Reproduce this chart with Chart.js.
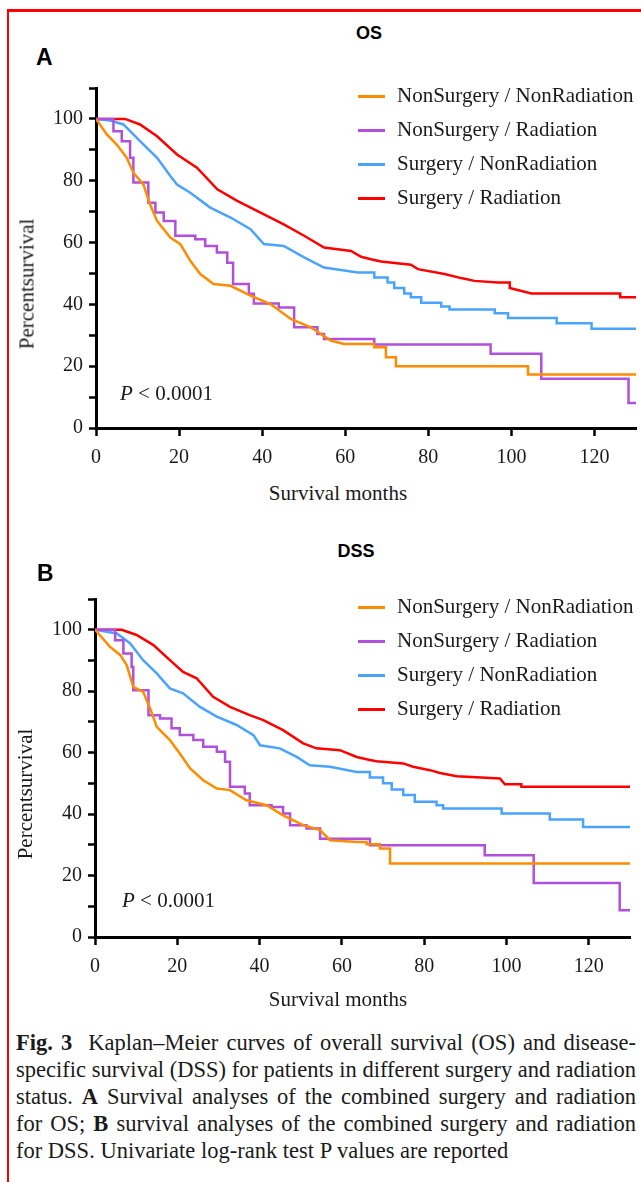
<!DOCTYPE html>
<html>
<head>
  <meta charset="utf-8">
  <title>Fig. 3 Kaplan-Meier curves</title>
  <script src="https://cdn.jsdelivr.net/npm/chart.js"></script>
  <style>
    body { margin: 0; background: #fff; }
    .page { position: relative; width: 641px; height: 1182px; overflow: hidden; font-family: "Liberation Serif", serif; color: #1a1a1a; }
    .frame { position: absolute; left: 7px; top: 9px; right: -10px; bottom: -10px; border-left: 2px solid #f00; border-top: 3px solid #f00; }
    .plot { position: absolute; left: 0; width: 641px; height: 410px; }
    .txt { position: absolute; line-height: 1; white-space: nowrap; }
    .panel { font-family: "Liberation Sans", Arial, sans-serif; font-weight: bold; font-size: 23px; color: #000; }
    .head { font-family: "Liberation Sans", Arial, sans-serif; font-weight: bold; font-size: 18px; color: #000; transform: translateX(-50%); }
    .serif21 { font-size: 21px; }
    .ytitle { font-size: 21px; transform: translate(-50%, -50%) rotate(-90deg); }
    .xtitle { font-size: 21px; transform: translate(-50%, -50%); }
    .swatch { position: absolute; width: 27px; height: 3px; }
    .cap { position: absolute; left: 16px; width: 620px; font-size: 22.5px; line-height: 27px; white-space: nowrap; text-align: justify; text-align-last: justify; }
    .cap.last { text-align-last: left; }
  </style>
</head>
<body>
<div class="page">
  <div class="frame"></div>

  <div class="plot" style="top:70px"><canvas id="chartOS"></canvas></div>
  <div class="plot" style="top:580px"><canvas id="chartDSS"></canvas></div>

  <div class="txt panel" style="left:36px; top:46px">A</div>
  <div class="txt head" style="left:369px; top:24px">OS</div>
  <div id="legendOS"></div>
  <div class="txt serif21" style="left:120px; top:383px"><i>P</i> &lt; 0.0001</div>
  <div class="txt ytitle" style="left:27px; top:284px">Percentsurvival</div>
  <div class="txt xtitle" style="left:338px; top:493px">Survival months</div>

  <div class="txt panel" style="left:37px; top:562px">B</div>
  <div class="txt head" style="left:356px; top:542px">DSS</div>
  <div id="legendDSS"></div>
  <div class="txt serif21" style="left:122px; top:890px"><i>P</i> &lt; 0.0001</div>
  <div class="txt ytitle" style="left:25px; top:794px">Percentsurvival</div>
  <div class="txt xtitle" style="left:338px; top:999px">Survival months</div>

  <div class="cap" style="top:1029px"><span><b>Fig. 3</b>&nbsp; Kaplan–Meier curves of overall survival (OS) and disease-</span></div>
  <div class="cap" style="top:1056px"><span>specific survival (DSS) for patients in different surgery and radiation</span></div>
  <div class="cap" style="top:1083px"><span>status. <b>A</b> Survival analyses of the combined surgery and radiation</span></div>
  <div class="cap" style="top:1110px"><span>for OS; <b>B</b> survival analyses of the combined surgery and radiation</span></div>
  <div class="cap last" style="top:1137px"><span>for DSS. Univariate log-rank test P values are reported</span></div>
</div>

<script>
  const seriesNames = ['NonSurgery / NonRadiation', 'NonSurgery / Radiation', 'Surgery / NonRadiation', 'Surgery / Radiation'];
  const seriesColors = ['#ff8c00', '#b050dc', '#4aa3ff', '#ff0000'];

  const xTickValues = [0, 20, 40, 60, 80, 100, 120];
  const yTickValues = [0, 10, 20, 30, 40, 50, 60, 70, 80, 90, 100, 110];
  const yTickLabels = [0, 20, 40, 60, 80, 100];

  // NonSurgery / Radiation: step times (months) and percent survival after each step.
  // Other groups: points, with corners kept where the steps are wide.
  const osMonthsNN = [0, 2.6, 5, 7.4, 9, 11.4, 13, 14.7, 17.9, 20.3, 22.7, 25.1, 28.3, 32.4, 37.2, 42, 46.9, 51.7, 56.5, 59.7, 67, 67, 69.8, 69.8, 72.2, 72.2, 104, 104, 130];
  const osSurvNN   = [100, 95, 91.7, 87.4, 82.6, 78.8, 72.4, 67, 61.6, 59.5, 54.1, 49.8, 46.6, 46, 42.8, 40.1, 35.3, 32.6, 28.3, 27.2, 27.2, 26.1, 26.1, 22.9, 22.9, 20, 20, 17.3, 17.3];
  const osMonthsNR = [0, 4.2, 6.2, 8.2, 9, 12.6, 14.3, 16.3, 19.1, 23.9, 26.3, 29.1, 31.6, 33, 36.8, 38, 44, 47.7, 53.3, 54.9, 67, 95, 107.2, 128.2, 130];
  const osSurvNR   = [100, 96, 92.8, 87.4, 79.4, 72.9, 69.7, 67, 62.2, 61.1, 58.9, 56.8, 53.5, 46.6, 43.4, 40.3, 39, 32.6, 30.4, 28.8, 27, 24, 15.9, 8.1, 8.1];
  const osMonthsSN = [0, 3.4, 6.6, 10.6, 14.7, 17.9, 19.5, 22.7, 27.5, 32.4, 37.2, 40.4, 45.2, 50.1, 54.9, 63, 67, 67, 70.2, 70.2, 71.8, 71.8, 74.2, 74.2, 75.8, 75.8, 78.3, 78.3, 83.1, 83.1, 85.1, 85.1, 96, 96, 99.2, 99.2, 110.9, 110.9, 119.3, 119.3, 130];
  const osSurvSN   = [100, 99.5, 98.2, 92.8, 87.4, 81.5, 78.8, 76.1, 71.3, 68.1, 64.3, 59.5, 58.9, 55.2, 51.9, 50.3, 50.3, 48.7, 48.7, 47.1, 47.1, 45.3, 45.3, 43.5, 43.5, 42.3, 42.3, 40.5, 40.5, 39.3, 39.3, 38.3, 38.3, 37.1, 37.1, 35.6, 35.6, 33.9, 33.9, 32.1, 32.1];
  const osMonthsSR = [0, 7, 10.6, 14.7, 19.5, 24.3, 29.2, 34, 39.6, 45.2, 50.1, 54.9, 61.4, 63.8, 66.2, 68.6, 75.8, 77.5, 83.9, 87.9, 91.1, 96.8, 99.6, 99.6, 104.8, 126.2, 126.2, 130];
  const osSurvSR   = [100, 100, 98.2, 94.4, 88.5, 84.2, 77.2, 73.5, 69.7, 65.9, 62.2, 58.4, 57.3, 55.4, 54.6, 53.9, 52.8, 51.4, 49.8, 48.5, 47.6, 47.1, 47.1, 45.3, 43.5, 43.5, 42.3, 42.3];

  const dssMonthsNN = [0, 3.6, 6.1, 7.7, 9.3, 11.7, 13.4, 15, 18.2, 20.6, 23.1, 26.3, 29.6, 32.8, 36.8, 41.7, 45.7, 50.6, 54.7, 57.1, 63.6, 66, 66, 69.2, 69.2, 71.7, 71.7, 130];
  const dssSurvNN   = [100, 94.5, 91.8, 88.5, 81.4, 79.8, 74.4, 68.4, 64.1, 59.7, 54.9, 51, 48.3, 47.8, 44.5, 42.9, 39.6, 36.4, 34.8, 31.5, 30.9, 30.9, 30.2, 30.2, 28.8, 28.8, 23.9, 23.9];
  const dssMonthsNR = [0, 4.9, 6.9, 8.9, 9.3, 13, 15.8, 18.6, 20.6, 23.9, 26.3, 29.6, 31.6, 32.8, 36.4, 37.6, 42.9, 45.7, 47.4, 51.4, 54.7, 66.8, 94.7, 106.6, 127.5, 130];
  const dssSurvNR   = [100, 96.6, 92.3, 87.9, 80.3, 72.2, 71.1, 67.9, 65.7, 64.1, 61.9, 60.3, 57, 48.9, 46.7, 42.9, 42.3, 40.2, 36.4, 35.3, 32, 29.9, 26.6, 17.6, 8.7, 8.7];
  const dssMonthsSN = [0, 5.3, 8.5, 11.7, 15, 18.2, 21.4, 25.5, 29.6, 34.4, 38.5, 40.1, 44.9, 49, 52.2, 57.1, 63.6, 66.8, 66.8, 70, 70, 72.1, 72.1, 74.9, 74.9, 77.7, 77.7, 83, 83, 84.6, 84.6, 98.8, 98.8, 110.5, 110.5, 118.6, 118.6, 130];
  const dssSurvSN   = [100, 98.8, 95.6, 90.1, 85.8, 80.9, 79.3, 74.9, 71.7, 69, 65.7, 62.4, 61.4, 58.6, 55.9, 55.4, 53.7, 53.7, 51.9, 51.9, 50, 50, 48, 48, 46.2, 46.2, 44, 44, 42.9, 42.9, 41.8, 41.8, 40.2, 40.2, 38.2, 38.2, 35.8, 35.8];
  const dssMonthsSR = [0, 6.5, 10.1, 14.2, 18.2, 21.4, 24.7, 28.7, 32.8, 37.6, 40.9, 45.7, 50.6, 53.8, 59.5, 63.6, 66.8, 68.4, 74.9, 77.3, 81.4, 83.8, 87.9, 98.4, 99.6, 103.6, 103.6, 130];
  const dssSurvSR   = [100, 100, 98.3, 95, 90.1, 86.3, 84.2, 78.2, 74.9, 72.2, 70.6, 67.3, 63, 61.4, 60.8, 58.6, 57.6, 57.2, 56.5, 55.4, 54.3, 53.4, 52.3, 51.6, 49.7, 49.7, 48.9, 48.9];

  const tickFont = { family: 'Liberation Serif', size: 20 };

  function buildLegend(id, top) {
    const box = document.getElementById(id);
    seriesNames.forEach((name, i) => {
      const y = top + i * 34;
      const sw = document.createElement('div');
      sw.className = 'swatch';
      sw.style.left = '358px';
      sw.style.top = (y - 1.5) + 'px';
      sw.style.background = seriesColors[i];
      box.appendChild(sw);
      const t = document.createElement('div');
      t.className = 'txt serif21';
      t.style.left = '397px';
      t.style.top = (y - 11) + 'px';
      t.textContent = name;
      box.appendChild(t);
    });
  }

  // squeeze any caption line that is wider than the column
  function fitCaption() {
    document.querySelectorAll('.cap').forEach(el => {
      const span = el.querySelector('span');
      const w = span.getBoundingClientRect().width;
      if (w > 620) {
        const n = span.textContent.length;
        el.style.letterSpacing = ((620 - w) / n - 0.05) + 'px';
      }
    });
  }

  function drawKM(id, curves, layout) {
    new Chart(document.getElementById(id), {
      type: 'line',
      data: {
        datasets: curves.map((c, i) => ({
          label: seriesNames[i],
          data: c[0].map((m, j) => ({ x: m, y: c[1][j] })),
          borderColor: seriesColors[i],
          borderWidth: 2.5,
          pointRadius: 0,
          stepped: i === 1,   // NonSurgery / Radiation drawn as plain steps
          tension: 0,
          fill: false
        }))
      },
      options: {
        responsive: true,
        maintainAspectRatio: false,
        animation: false,
        layout: { padding: { top: layout.top, right: layout.right, left: 0, bottom: 0 } },
        plugins: { legend: { display: false }, tooltip: { enabled: false }, title: { display: false } },
        scales: {
          x: {
            type: 'linear', min: 0, max: 130,
            afterBuildTicks: s => { s.ticks = xTickValues.map(v => ({ value: v })); },
            afterFit: s => { s.height = layout.xh; },
            ticks: { font: tickFont, color: '#1a1a1a', padding: 10, maxRotation: 0 },
            grid: { drawOnChartArea: false, tickLength: 8, tickWidth: 2.5, tickColor: '#000' },
            border: { color: '#000', width: 3 }
          },
          y: {
            min: 0, max: 110,
            afterBuildTicks: s => { s.ticks = yTickValues.map(v => ({ value: v })); },
            afterFit: s => { s.width = layout.yw; },
            ticks: { font: tickFont, color: '#1a1a1a', padding: 6,
                     callback: v => yTickLabels.includes(v) ? v : '' },
            grid: { drawOnChartArea: false, tickLength: 7, tickWidth: 2.5, tickColor: '#000' },
            border: { color: '#000', width: 3 }
          }
        }
      }
    });
  }

  buildLegend('legendOS', 96);
  buildLegend('legendDSS', 607);
  fitCaption();

  drawKM('chartOS', [[osMonthsNN, osSurvNN], [osMonthsNR, osSurvNR], [osMonthsSN, osSurvSN], [osMonthsSR, osSurvSR]],
         { top: 15, right: 5, xh: 52, yw: 96 });
  drawKM('chartDSS', [[dssMonthsNN, dssSurvNN], [dssMonthsNR, dssSurvNR], [dssMonthsSN, dssSurvSN], [dssMonthsSR, dssSurvSR]],
         { top: 19, right: 11, xh: 53, yw: 95 });
</script>
</body>
</html>
